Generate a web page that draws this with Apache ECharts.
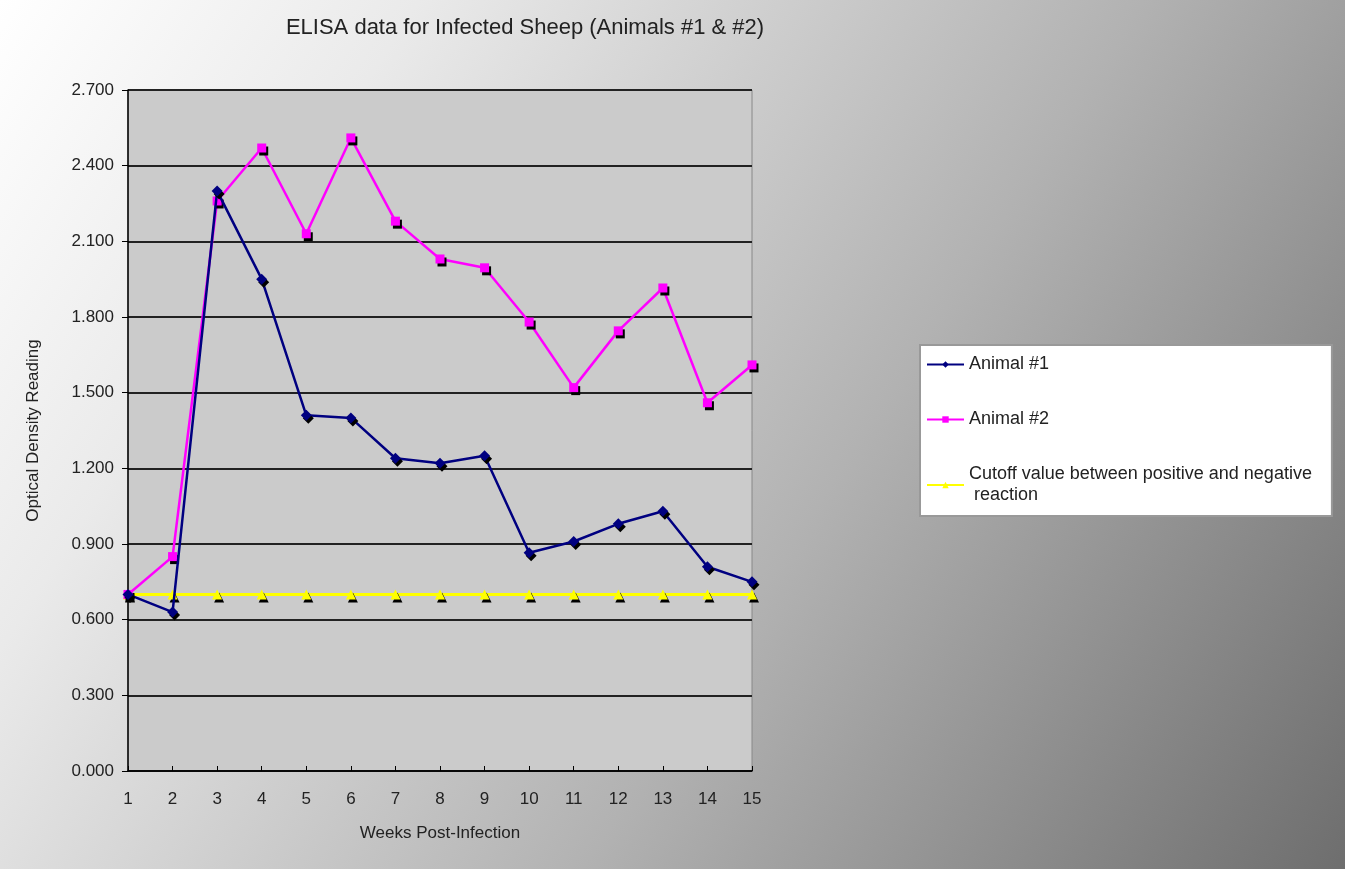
<!DOCTYPE html>
<html>
<head>
<meta charset="utf-8">
<script src="https://cdn.jsdelivr.net/npm/echarts@6/dist/echarts.min.js"></script>
<style>
html,body{margin:0;padding:0;}
#chart{width:1345px;height:869px;}
</style>
</head>
<body>
<div id="chart"></div>
<script>
const weeks = ['1','2','3','4','5','6','7','8','9','10','11','12','13','14','15'];
const animal1 = [0.70,0.63,2.30,1.95,1.41,1.40,1.24,1.22,1.25,0.865,0.91,0.98,1.03,0.81,0.75];
const animal2 = [0.70,0.85,2.26,2.47,2.13,2.51,2.18,2.03,1.995,1.78,1.52,1.745,1.915,1.46,1.61];
const cutoff = [0.70,0.70,0.70,0.70,0.70,0.70,0.70,0.70,0.70,0.70,0.70,0.70,0.70,0.70,0.70];
const seriesNames = ['Animal #1','Animal #2','Cutoff value between positive and negative\n reaction'];

const chart = echarts.init(document.getElementById('chart'));
const font = 'Arial, "Liberation Sans", sans-serif';
const shadow = {shadowColor:'#000', shadowOffsetX:2, shadowOffsetY:3, shadowBlur:0};
chart.setOption({
  backgroundColor: {
    type:'linear', x:0, y:0, x2:1, y2:1,
    colorStops:[{offset:0,color:'#ffffff'},{offset:0.22,color:'#eaeaea'},{offset:0.6,color:'#b2b2b2'},{offset:1,color:'#6e6e6e'}]
  },
  title: {
    text:'ELISA data for Infected Sheep (Animals #1 & #2)',
    left:520, top:12, textAlign:'center',
    textStyle:{fontFamily:font, fontSize:22, fontWeight:'normal', color:'#222'}
  },
  legend: {
    orient:'vertical', left:920, top:345,
    backgroundColor:'#ffffff', borderColor:'#999', borderWidth:2,
    padding:[9,20,10,6], itemGap:34, itemWidth:37, itemHeight:8,
    textStyle:{fontFamily:font, fontSize:18, color:'#222', lineHeight:21},
    data: seriesNames
  },
  grid: {
    left:128, right:593, top:90, bottom:98,
    show:true, backgroundColor:'#cbcbcb', borderColor:'#888', borderWidth:1
  },
  xAxis: {
    type:'category', data:weeks, boundaryGap:false,
    name:'Weeks Post-Infection', nameLocation:'middle', nameGap:54,
    nameTextStyle:{fontFamily:font, fontSize:17, color:'#222'},
    axisLine:{lineStyle:{color:'#000', width:1.5}},
    axisTick:{inside:true, length:5, lineStyle:{color:'#000'}},
    axisLabel:{fontFamily:font, fontSize:17, color:'#222', margin:20}
  },
  yAxis: {
    type:'value', min:0, max:2.7, interval:0.3,
    name:'Optical Density Reading', nameLocation:'middle', nameGap:86,
    nameTextStyle:{fontFamily:font, fontSize:17, color:'#222'},
    axisLine:{show:true, lineStyle:{color:'#000', width:1.5}},
    axisTick:{show:true, length:6, lineStyle:{color:'#000'}},
    axisLabel:{fontFamily:font, fontSize:17, color:'#222', margin:14, formatter:v=>v.toFixed(3)},
    splitLine:{lineStyle:{color:'#222', width:2}}
  },
  series: [
    {name:seriesNames[0], type:'line', data:animal1, symbol:'diamond', symbolSize:11,
     lineStyle:{color:'#000080', width:2.5}, itemStyle:Object.assign({color:'#000080'}, shadow), z:4},
    {name:seriesNames[1], type:'line', data:animal2, symbol:'rect', symbolSize:9,
     lineStyle:{color:'#ff00ff', width:2.5}, itemStyle:Object.assign({color:'#ff00ff'}, shadow), z:3},
    {name:seriesNames[2], type:'line', data:cutoff, symbol:'triangle', symbolSize:10,
     lineStyle:{color:'#ffff00', width:3}, itemStyle:Object.assign({color:'#ffff00'}, shadow), z:2}
  ],
  animation:false
});
</script>
</body>
</html>
